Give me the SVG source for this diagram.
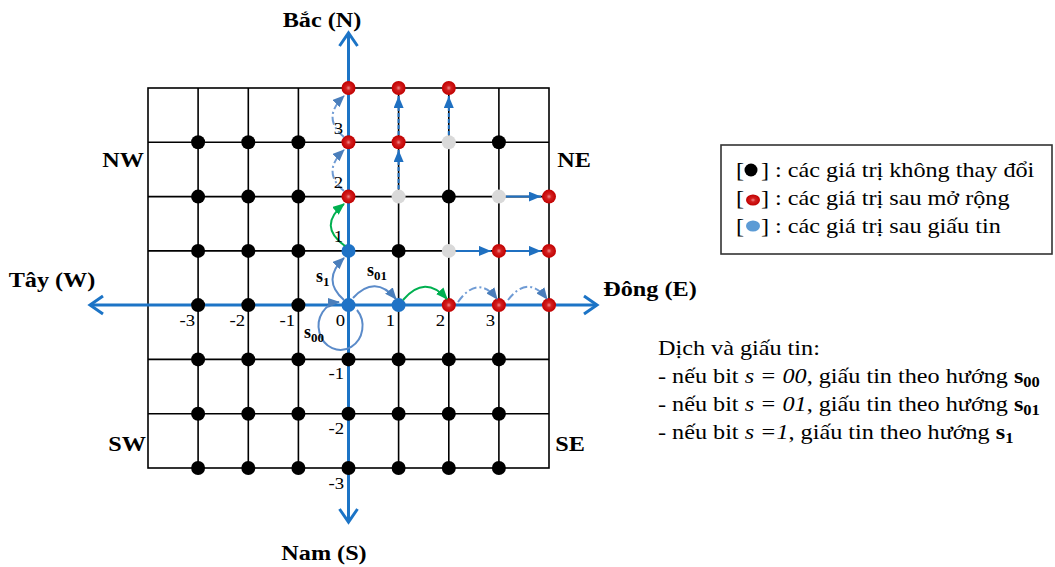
<svg xmlns="http://www.w3.org/2000/svg" width="1055" height="567" viewBox="0 0 1055 567">
<style>
.t{font-family:"Liberation Serif","Times New Roman",serif;fill:#000}
.lbl{font-weight:bold;font-size:22px;text-anchor:middle}
.num{font-size:17px;text-anchor:end}
.txt{font-size:22px}
.sl{font-weight:bold;font-size:18px}
.grid{stroke:#000;stroke-width:1.6;fill:none}
.axis{stroke:#1c74c6;stroke-width:3;fill:none}
.blk{fill:#000}
.gry{fill:#d9d9d9}
.blu{fill:#1f73c6}
.red{fill:url(#rg)}
.sa{stroke:#1f70c1;stroke-width:2;fill:none}
.da{stroke:#1f70c1;stroke-width:2;fill:none;stroke-dasharray:4 2}
.cb{stroke:#5b8bc9;stroke-width:2;fill:none}
.cd{stroke:#6f9bd4;stroke-width:2;fill:none;stroke-dasharray:8 3 2 3}
.cg{stroke:#00b050;stroke-width:2;fill:none}
</style>
<defs>
<radialGradient id="rg">
<stop offset="0" stop-color="#f08a8a"/>
<stop offset="0.35" stop-color="#d42020"/>
<stop offset="1" stop-color="#c00000"/>
</radialGradient>
<marker id="mb" viewBox="0 0 12 10" refX="12" refY="5" markerWidth="12" markerHeight="10" orient="auto" markerUnits="userSpaceOnUse"><path d="M0,0 L12,5 L0,10 z" fill="#1f70c1"/></marker>
<marker id="ms" viewBox="0 0 12 10" refX="11" refY="5" markerWidth="12" markerHeight="10" orient="auto" markerUnits="userSpaceOnUse"><path d="M0,0 L12,5 L0,10 z" fill="#4a7ebb"/></marker>
<marker id="mg" viewBox="0 0 12 10" refX="11" refY="5" markerWidth="12" markerHeight="10" orient="auto" markerUnits="userSpaceOnUse"><path d="M0,0 L12,5 L0,10 z" fill="#00b050"/></marker>
</defs>
<rect width="1055" height="567" fill="#fff"/>

<g id="grid" class="grid">
<rect x="148" y="88" width="401" height="380"/>
<path d="M198.1 88V468M248.3 88V468M298.4 88V468M348.5 88V468M398.6 88V468M448.8 88V468M498.9 88V468M148 142.3H549M148 196.6H549M148 250.9H549M148 305.1H549M148 359.4H549M148 413.7H549"/>
</g>

<g id="axes" class="axis">
<path d="M348.5 33V522M90 305.1H597"/>
<path d="M339.5 46L348.5 33L357.5 46M339.5 509L348.5 522L357.5 509M103 296L90 305.1L103 314M584 296L597 305.1L584 314"/>
</g>

<g id="dots">
<g class="blk">
<circle cx="198.1" cy="142.3" r="7"/><circle cx="248.3" cy="142.3" r="7"/><circle cx="298.4" cy="142.3" r="7"/><circle cx="498.9" cy="142.3" r="7"/>
<circle cx="198.1" cy="196.6" r="7"/><circle cx="248.3" cy="196.6" r="7"/><circle cx="298.4" cy="196.6" r="7"/><circle cx="448.8" cy="196.6" r="7"/>
<circle cx="198.1" cy="250.9" r="7"/><circle cx="248.3" cy="250.9" r="7"/><circle cx="298.4" cy="250.9" r="7"/><circle cx="398.6" cy="250.9" r="7"/>
<circle cx="198.1" cy="305.1" r="7"/><circle cx="248.3" cy="305.1" r="7"/><circle cx="298.4" cy="305.1" r="7"/>
<circle cx="198.1" cy="359.4" r="7"/><circle cx="248.3" cy="359.4" r="7"/><circle cx="298.4" cy="359.4" r="7"/><circle cx="348.5" cy="359.4" r="7"/><circle cx="398.6" cy="359.4" r="7"/><circle cx="448.8" cy="359.4" r="7"/><circle cx="498.9" cy="359.4" r="7"/>
<circle cx="198.1" cy="413.7" r="7"/><circle cx="248.3" cy="413.7" r="7"/><circle cx="298.4" cy="413.7" r="7"/><circle cx="348.5" cy="413.7" r="7"/><circle cx="398.6" cy="413.7" r="7"/><circle cx="448.8" cy="413.7" r="7"/><circle cx="498.9" cy="413.7" r="7"/>
<circle cx="198.1" cy="468" r="7"/><circle cx="248.3" cy="468" r="7"/><circle cx="298.4" cy="468" r="7"/><circle cx="348.5" cy="468" r="7"/><circle cx="398.6" cy="468" r="7"/><circle cx="448.8" cy="468" r="7"/><circle cx="498.9" cy="468" r="7"/>
</g>
<g class="gry">
<circle cx="448.8" cy="142.3" r="7"/><circle cx="398.6" cy="196.6" r="7"/><circle cx="498.9" cy="196.6" r="7"/><circle cx="448.8" cy="250.9" r="7"/>
</g>
<g class="blu">
<circle cx="348.5" cy="250.9" r="7"/><circle cx="348.5" cy="305.1" r="7"/><circle cx="398.6" cy="305.1" r="7"/>
</g>
<g class="red">
<circle cx="348.5" cy="88" r="7"/><circle cx="398.6" cy="88" r="7"/><circle cx="448.8" cy="88" r="7"/>
<circle cx="348.5" cy="142.3" r="7"/><circle cx="398.6" cy="142.3" r="7"/>
<circle cx="348.5" cy="196.6" r="7"/><circle cx="549" cy="196.6" r="7"/>
<circle cx="498.9" cy="250.9" r="7"/><circle cx="549" cy="250.9" r="7"/>
<circle cx="448.8" cy="305.1" r="7"/><circle cx="498.9" cy="305.1" r="7"/><circle cx="549" cy="305.1" r="7"/>
</g>
</g>

<g id="connectors">
<path class="sa" d="M506 196.6H541" marker-end="url(#mb)"/>
<path class="sa" d="M456 250.9H491" marker-end="url(#mb)"/>
<path class="sa" d="M506 250.9H541" marker-end="url(#mb)"/>
<path class="da" d="M398.6 189V150" marker-end="url(#mb)"/>
<path class="da" d="M398.6 135V96" marker-end="url(#mb)"/>
<path class="da" d="M448.8 135V96" marker-end="url(#mb)"/>
<path class="cd" d="M344 137Q321 118 344 96" marker-end="url(#ms)"/>
<path class="cd" d="M344 191Q321 172 344 150" marker-end="url(#ms)"/>
<path class="cg" d="M345 246Q317 226 344 204" marker-end="url(#mg)"/>
<path class="cb" d="M344 300Q321 280 344 258" marker-end="url(#ms)"/>
<path class="cb" d="M353 298Q375 274 396 299" marker-end="url(#ms)"/>
<path class="cg" d="M403 300Q425 274 447 299" marker-end="url(#mg)"/>
<path class="cd" d="M458 302Q478 274 497 299" marker-end="url(#ms)"/>
<path class="cd" d="M508 300Q528 274 547 299" marker-end="url(#ms)"/>
<path class="cb" d="M357 310A22 24 0 1 1 339 302" marker-end="url(#ms)"/>
</g>

<g id="labels" class="t">
<text class="lbl" transform="translate(322,27) scale(1.1,1)">Bắc (N)</text>
<text class="lbl" transform="translate(324,560) scale(1.1,1)">Nam (S)</text>
<text class="lbl" transform="translate(52,287) scale(1.1,1)">Tây (W)</text>
<text class="lbl" transform="translate(650,296) scale(1.1,1)">Đông (E)</text>
<text class="lbl" transform="translate(123,167) scale(1.1,1)">NW</text>
<text class="lbl" transform="translate(574,167) scale(1.1,1)">NE</text>
<text class="lbl" transform="translate(127,451) scale(1.1,1)">SW</text>
<text class="lbl" transform="translate(570,451) scale(1.1,1)">SE</text>
<text class="num" transform="translate(195,326) scale(1.1,1)">-3</text>
<text class="num" transform="translate(245,326) scale(1.1,1)">-2</text>
<text class="num" transform="translate(295,326) scale(1.1,1)">-1</text>
<text class="num" transform="translate(345,326) scale(1.1,1)">0</text>
<text class="num" transform="translate(395,326) scale(1.1,1)">1</text>
<text class="num" transform="translate(445,326) scale(1.1,1)">2</text>
<text class="num" transform="translate(495,326) scale(1.1,1)">3</text>
<text class="num" transform="translate(343,242) scale(1.1,1)">1</text>
<text class="num" transform="translate(343,188) scale(1.1,1)">2</text>
<text class="num" transform="translate(343,134) scale(1.1,1)">3</text>
<text class="num" transform="translate(344,379) scale(1.1,1)">-1</text>
<text class="num" transform="translate(344,434) scale(1.1,1)">-2</text>
<text class="num" transform="translate(344,489) scale(1.1,1)">-3</text>
<text class="sl" transform="translate(316,282)">s<tspan font-size="13" dy="4">1</tspan></text>
<text class="sl" transform="translate(367,276)">s<tspan font-size="13" dy="4">01</tspan></text>
<text class="sl" transform="translate(304,338)">s<tspan font-size="13" dy="4">00</tspan></text>
</g>

<g id="legend">
<rect x="721" y="145" width="331" height="109" fill="#fff" stroke="#333" stroke-width="1.6"/>
<circle cx="751" cy="170" r="6.5" fill="#000"/>
<ellipse cx="753" cy="200" rx="7" ry="5.5" fill="url(#rg)"/>
<ellipse cx="753" cy="226" rx="7" ry="5.5" fill="#5b9bd5"/>
<g class="t txt">
<text transform="translate(736,177) scale(1.1,1)">[</text>
<text transform="translate(761,177) scale(1.1,1)">] : các giá trị không thay đổi</text>
<text transform="translate(736,205) scale(1.1,1)">[</text>
<text transform="translate(761,205) scale(1.1,1)">] : các giá trị sau mở rộng</text>
<text transform="translate(736,233) scale(1.1,1)">[</text>
<text transform="translate(761,233) scale(1.1,1)">] : các giá trị sau giấu tin</text>
</g>
</g>

<g id="notes" class="t txt">
<text transform="translate(658,355) scale(1.1,1)">Dịch và giấu tin:</text>
<text transform="translate(658,383) scale(1.1,1)">- nếu bit <tspan font-style="italic">s = 00</tspan>, giấu tin theo hướng <tspan font-weight="bold">s</tspan><tspan font-weight="bold" font-size="15" dy="4">00</tspan></text>
<text transform="translate(658,411) scale(1.1,1)">- nếu bit <tspan font-style="italic">s = 01</tspan>, giấu tin theo hướng <tspan font-weight="bold">s</tspan><tspan font-weight="bold" font-size="15" dy="4">01</tspan></text>
<text transform="translate(658,439) scale(1.1,1)">- nếu bit <tspan font-style="italic">s =1</tspan>, giấu tin theo hướng <tspan font-weight="bold">s</tspan><tspan font-weight="bold" font-size="15" dy="4">1</tspan></text>
</g>
</svg>
